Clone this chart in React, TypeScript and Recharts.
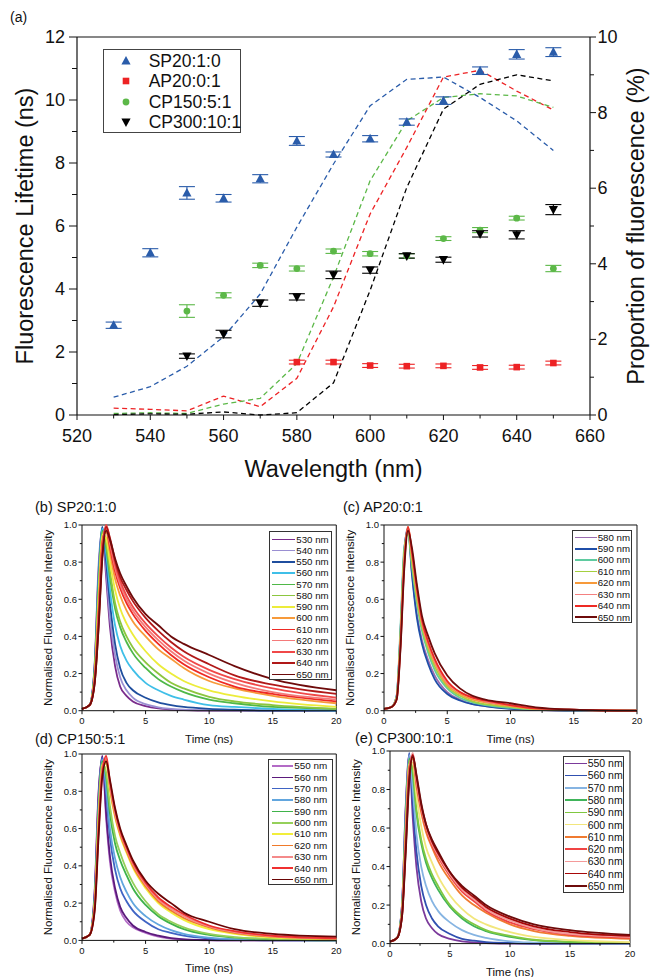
import React from 'react';
import {
  ComposedChart,
  LineChart,
  Line,
  Scatter,
  ErrorBar,
  XAxis,
  YAxis,
  ReferenceLine,
  Legend,
  Label,
} from 'recharts';

const FONT = '"Liberation Sans", Arial, Helvetica, sans-serif';

// ---------- (a) lifetime (left axis) and proportion (right axis) ----------
const wavelengths = [530, 540, 550, 560, 570, 580, 590, 600, 610, 620, 630, 640, 650];
const wavelengthTicks = [520, 530, 540, 550, 560, 570, 580, 590, 600, 610, 620, 630, 640, 650, 660];
const lifetimeTicks = [0, 1, 2, 3, 4, 5, 6, 7, 8, 9, 10, 11, 12];
const proportionTicks = [0, 1, 2, 3, 4, 5, 6, 7, 8, 9, 10];

const sp20Lifetime = [2.85, 5.15, 7.05, 6.88, 7.5, 8.7, 8.27, 8.77, 9.3, 9.98, 10.93, 11.45, 11.52];
const sp20Error = [0.1, 0.13, 0.2, 0.12, 0.13, 0.14, 0.08, 0.1, 0.1, 0.12, 0.12, 0.15, 0.14];
const ap20Lifetime = [null, null, null, null, null, 1.68, 1.68, 1.57, 1.55, 1.56, 1.51, 1.52, 1.65];
const ap20Error = [null, null, null, null, null, 0.06, 0.06, 0.06, 0.06, 0.06, 0.06, 0.06, 0.06];
const cp150Lifetime = [null, null, 3.3, 3.8, 4.75, 4.65, 5.2, 5.12, 5.05, 5.6, 5.87, 6.25, 4.65];
const cp150Error = [null, null, 0.2, 0.08, 0.07, 0.08, 0.07, 0.07, 0.07, 0.06, 0.08, 0.06, 0.1];
const cp300Lifetime = [null, null, 1.87, 2.57, 3.55, 3.75, 4.45, 4.6, 5.05, 4.93, 5.75, 5.72, 6.52];
const cp300Error = [null, null, 0.07, 0.12, 0.1, 0.1, 0.12, 0.1, 0.07, 0.08, 0.1, 0.13, 0.16];

const sp20Proportion = [0.47, 0.75, 1.29, 2.07, 3.2, 4.97, 6.64, 8.18, 8.88, 8.94, 8.4, 7.78, 7.0];
const ap20Proportion = [0.18, 0.15, 0.11, 0.5, 0.22, 0.97, 2.86, 5.32, 7.08, 8.94, 9.12, 8.57, 8.07];
const cp150Proportion = [0.04, 0.06, 0.04, 0.29, 0.44, 1.36, 3.65, 6.2, 7.78, 8.4, 8.5, 8.44, 8.14];
const cp300Proportion = [0.01, 0.03, 0.02, 0.08, 0, 0.06, 0.85, 3.3, 6.02, 8.09, 8.75, 9.0, 8.84];

// ---------- (b)-(e) normalised decays ----------
const decayTimes = [0, 0.6, 1.0, 1.3, 1.6, 1.9, 2.2, 2.6, 3, 3.5, 4, 5, 6, 7, 8, 10, 12, 15, 20];
const timeTicks = [0, 2.5, 5, 7.5, 10, 12.5, 15, 17.5, 20];
const intensityTicks = [0, 0.1, 0.2, 0.3, 0.4, 0.5, 0.6, 0.7, 0.8, 0.9, 1.0];

const sp20Waves = [530, 540, 550, 560, 570, 580, 590, 600, 610, 620, 630, 640, 650];
const sp20Colors = ['#7a2c8c', '#9a8fd2', '#1f4e9e', '#3fbfe8', '#4fb848', '#8cc63f', '#ecec3a', '#f79a3a', '#ee2a24', '#f47a7a', '#f04848', '#b01818', '#6e0b0b'];
const sp20Decay = [
  [0.01, 0.03, 0.25, 0.75, 0.97, 0.72, 0.45, 0.24, 0.13, 0.08, 0.05, 0.025, 0.012, 0.006, 0.003, 0, 0, 0, 0],
  [0.01, 0.03, 0.26, 0.78, 0.98, 0.76, 0.5, 0.3, 0.18, 0.11, 0.07, 0.035, 0.018, 0.01, 0.005, 0.002, 0, 0, 0],
  [0.01, 0.03, 0.24, 0.72, 0.99, 0.8, 0.58, 0.36, 0.23, 0.15, 0.11, 0.07, 0.045, 0.03, 0.02, 0.01, 0.005, 0, 0],
  [0.01, 0.03, 0.22, 0.68, 0.98, 0.85, 0.65, 0.46, 0.35, 0.27, 0.22, 0.15, 0.11, 0.08, 0.06, 0.03, 0.02, 0.01, 0],
  [0.01, 0.03, 0.22, 0.66, 0.97, 0.88, 0.72, 0.55, 0.45, 0.37, 0.31, 0.23, 0.17, 0.13, 0.1, 0.06, 0.04, 0.02, 0.01],
  [0.01, 0.03, 0.2, 0.62, 0.96, 0.9, 0.75, 0.58, 0.48, 0.4, 0.34, 0.26, 0.2, 0.15, 0.12, 0.075, 0.05, 0.03, 0.01],
  [0.01, 0.03, 0.2, 0.6, 0.95, 0.93, 0.8, 0.65, 0.55, 0.47, 0.41, 0.32, 0.25, 0.2, 0.16, 0.11, 0.08, 0.05, 0.02],
  [0.01, 0.03, 0.18, 0.55, 0.92, 0.96, 0.85, 0.71, 0.62, 0.54, 0.48, 0.4, 0.33, 0.28, 0.23, 0.16, 0.12, 0.08, 0.04],
  [0.01, 0.03, 0.17, 0.52, 0.9, 0.98, 0.88, 0.75, 0.66, 0.58, 0.52, 0.43, 0.36, 0.3, 0.25, 0.18, 0.13, 0.09, 0.05],
  [0.01, 0.03, 0.17, 0.5, 0.88, 0.99, 0.9, 0.77, 0.68, 0.6, 0.54, 0.45, 0.38, 0.32, 0.27, 0.2, 0.15, 0.1, 0.06],
  [0.01, 0.03, 0.16, 0.48, 0.86, 1.0, 0.92, 0.79, 0.7, 0.62, 0.56, 0.47, 0.4, 0.34, 0.29, 0.22, 0.17, 0.12, 0.07],
  [0.01, 0.03, 0.15, 0.45, 0.84, 0.99, 0.93, 0.81, 0.72, 0.65, 0.59, 0.5, 0.43, 0.37, 0.32, 0.25, 0.19, 0.14, 0.09],
  [0.01, 0.03, 0.15, 0.44, 0.82, 0.97, 0.92, 0.82, 0.74, 0.67, 0.61, 0.52, 0.46, 0.4, 0.36, 0.3, 0.24, 0.17, 0.11],
];

const ap20Waves = [580, 590, 600, 610, 620, 630, 640, 650];
const ap20Colors = ['#9b6bb0', '#1f4ea8', '#5fcba0', '#a5d040', '#f79a3a', '#f48080', '#ee2a24', '#6e0b0b'];
const ap20Decay = [
  [0.01, 0.02, 0.08, 0.42, 0.85, 0.99, 0.75, 0.52, 0.38, 0.27, 0.19, 0.1, 0.06, 0.035, 0.025, 0.012, 0.005, 0, 0],
  [0.01, 0.02, 0.08, 0.42, 0.86, 0.98, 0.74, 0.5, 0.36, 0.25, 0.17, 0.09, 0.055, 0.035, 0.025, 0.01, 0.004, 0, 0],
  [0.01, 0.02, 0.08, 0.45, 0.88, 0.95, 0.78, 0.58, 0.43, 0.31, 0.22, 0.12, 0.07, 0.045, 0.03, 0.015, 0.006, 0.002, 0],
  [0.01, 0.02, 0.07, 0.4, 0.85, 0.96, 0.8, 0.6, 0.45, 0.33, 0.24, 0.13, 0.08, 0.05, 0.035, 0.02, 0.008, 0.003, 0],
  [0.01, 0.02, 0.07, 0.38, 0.82, 0.99, 0.84, 0.63, 0.47, 0.35, 0.26, 0.14, 0.09, 0.06, 0.045, 0.025, 0.01, 0.004, 0],
  [0.01, 0.02, 0.06, 0.36, 0.8, 0.98, 0.85, 0.65, 0.48, 0.36, 0.27, 0.15, 0.1, 0.07, 0.05, 0.03, 0.012, 0.005, 0],
  [0.01, 0.02, 0.06, 0.34, 0.78, 0.99, 0.86, 0.66, 0.49, 0.37, 0.28, 0.16, 0.1, 0.07, 0.055, 0.03, 0.012, 0.005, 0],
  [0.01, 0.02, 0.06, 0.33, 0.76, 0.97, 0.88, 0.68, 0.51, 0.4, 0.31, 0.19, 0.12, 0.08, 0.06, 0.04, 0.018, 0.006, 0],
];

const cp150Waves = [550, 560, 570, 580, 590, 600, 610, 620, 630, 640, 650];
const cp150Colors = ['#b36bc6', '#5b1a7c', '#3f64c4', '#62a6de', '#3fb34a', '#95d05a', '#f2ee3a', '#f07a2a', '#f48a8a', '#f03030', '#6a0505'];
const cp150Decay = [
  [0.01, 0.03, 0.28, 0.8, 0.97, 0.65, 0.42, 0.26, 0.16, 0.1, 0.07, 0.04, 0.02, 0.01, 0.005, 0, 0, 0, 0],
  [0.01, 0.03, 0.26, 0.78, 0.99, 0.68, 0.45, 0.28, 0.18, 0.12, 0.08, 0.045, 0.025, 0.012, 0.006, 0.002, 0, 0, 0],
  [0.01, 0.03, 0.24, 0.74, 0.98, 0.78, 0.55, 0.38, 0.28, 0.21, 0.16, 0.1, 0.06, 0.04, 0.025, 0.01, 0.004, 0, 0],
  [0.01, 0.03, 0.23, 0.72, 0.97, 0.82, 0.6, 0.44, 0.34, 0.26, 0.2, 0.13, 0.085, 0.055, 0.035, 0.015, 0.006, 0.002, 0],
  [0.01, 0.03, 0.22, 0.7, 0.96, 0.88, 0.68, 0.52, 0.43, 0.35, 0.28, 0.19, 0.13, 0.09, 0.06, 0.03, 0.015, 0.006, 0],
  [0.01, 0.03, 0.21, 0.68, 0.95, 0.9, 0.72, 0.56, 0.47, 0.38, 0.31, 0.21, 0.14, 0.1, 0.07, 0.035, 0.018, 0.008, 0.002],
  [0.01, 0.03, 0.2, 0.64, 0.94, 0.95, 0.8, 0.66, 0.56, 0.47, 0.39, 0.28, 0.2, 0.15, 0.11, 0.06, 0.035, 0.015, 0.005],
  [0.01, 0.03, 0.19, 0.62, 0.93, 0.97, 0.82, 0.67, 0.57, 0.48, 0.4, 0.29, 0.21, 0.16, 0.12, 0.07, 0.04, 0.02, 0.008],
  [0.01, 0.03, 0.18, 0.6, 0.92, 0.98, 0.83, 0.68, 0.58, 0.49, 0.41, 0.3, 0.22, 0.17, 0.13, 0.075, 0.045, 0.022, 0.01],
  [0.01, 0.03, 0.17, 0.58, 0.9, 0.99, 0.85, 0.7, 0.59, 0.5, 0.42, 0.31, 0.23, 0.18, 0.14, 0.08, 0.05, 0.025, 0.012],
  [0.01, 0.03, 0.16, 0.55, 0.88, 0.96, 0.86, 0.71, 0.6, 0.51, 0.43, 0.32, 0.25, 0.2, 0.15, 0.1, 0.06, 0.035, 0.02],
];

const cp300Waves = [550, 560, 570, 580, 590, 600, 610, 620, 630, 640, 650];
const cp300Colors = ['#7b3a9b', '#3050b0', '#86b4e2', '#40b45a', '#80c840', '#f2e67c', '#f07a30', '#f04444', '#f49a9a', '#a80808', '#6e0b0b'];
const cp300Decay = [
  [0.01, 0.03, 0.2, 0.7, 0.98, 0.65, 0.4, 0.22, 0.13, 0.08, 0.05, 0.025, 0.012, 0.006, 0.003, 0, 0, 0, 0],
  [0.01, 0.03, 0.2, 0.68, 0.99, 0.72, 0.48, 0.3, 0.2, 0.13, 0.09, 0.05, 0.025, 0.015, 0.008, 0.003, 0, 0, 0],
  [0.01, 0.03, 0.19, 0.65, 0.98, 0.8, 0.57, 0.4, 0.3, 0.22, 0.17, 0.11, 0.07, 0.045, 0.03, 0.012, 0.005, 0.001, 0],
  [0.01, 0.03, 0.18, 0.62, 0.96, 0.88, 0.68, 0.52, 0.42, 0.34, 0.28, 0.19, 0.13, 0.09, 0.065, 0.035, 0.018, 0.008, 0.002],
  [0.01, 0.03, 0.18, 0.6, 0.95, 0.9, 0.7, 0.54, 0.44, 0.36, 0.3, 0.2, 0.14, 0.1, 0.07, 0.04, 0.02, 0.01, 0.003],
  [0.01, 0.03, 0.17, 0.57, 0.93, 0.94, 0.77, 0.61, 0.5, 0.42, 0.35, 0.25, 0.18, 0.13, 0.1, 0.06, 0.035, 0.018, 0.008],
  [0.01, 0.03, 0.16, 0.55, 0.92, 0.96, 0.82, 0.68, 0.58, 0.5, 0.43, 0.33, 0.25, 0.2, 0.16, 0.1, 0.065, 0.04, 0.025],
  [0.01, 0.03, 0.15, 0.52, 0.9, 0.98, 0.84, 0.7, 0.6, 0.51, 0.45, 0.35, 0.27, 0.22, 0.17, 0.11, 0.075, 0.045, 0.03],
  [0.01, 0.03, 0.15, 0.5, 0.88, 0.99, 0.85, 0.71, 0.61, 0.52, 0.46, 0.36, 0.28, 0.23, 0.18, 0.12, 0.08, 0.05, 0.035],
  [0.01, 0.03, 0.14, 0.48, 0.86, 0.98, 0.87, 0.72, 0.62, 0.53, 0.47, 0.37, 0.29, 0.24, 0.19, 0.13, 0.09, 0.06, 0.04],
  [0.01, 0.03, 0.14, 0.46, 0.84, 0.97, 0.88, 0.73, 0.62, 0.54, 0.48, 0.37, 0.3, 0.25, 0.2, 0.14, 0.1, 0.07, 0.045],
];

// ---------- helpers ----------
const toPoints = (vals: (number | null)[], errs: (number | null)[]) =>
  wavelengths
    .map((wl, i) => ({ wl, v: vals[i], err: errs[i] }))
    .filter((p) => p.v != null);

const proportionRows = wavelengths.map((wl, i) => ({
  wl,
  sp20: sp20Proportion[i],
  ap20: ap20Proportion[i],
  cp150: cp150Proportion[i],
  cp300: cp300Proportion[i],
}));

const decayRows = (waves: number[], decay: number[][]) =>
  decayTimes.map((t, i) => {
    const row: Record<string, number> = { t };
    waves.forEach((w, j) => {
      row['w' + w] = decay[j][i];
    });
    return row;
  });

type TickOpts = {
  side: 'bottom' | 'left' | 'right';
  major: (v: number) => boolean;
  fmt: (v: number) => string;
  big: number;
  small: number;
  gap: number;
  size: number;
};

const makeTick = (o: TickOpts) => (props: any) => {
  const { x, y, payload } = props;
  const v = payload.value;
  const isMajor = o.major(v);
  const len = isMajor ? o.big : o.small;
  const text = { fontSize: o.size, fill: '#111', dominantBaseline: 'central' as const };
  if (o.side === 'bottom') {
    return (
      <g>
        <line x1={x} y1={y} x2={x} y2={y + len} stroke="#111" />
        {isMajor && (
          <text x={x} y={y + o.gap} textAnchor="middle" {...text}>
            {o.fmt(v)}
          </text>
        )}
      </g>
    );
  }
  const dir = o.side === 'left' ? -1 : 1;
  return (
    <g>
      <line x1={x} y1={y} x2={x + dir * len} y2={y} stroke="#111" />
      {isMajor && (
        <text x={x + dir * o.gap} y={y} textAnchor={o.side === 'left' ? 'end' : 'start'} {...text}>
          {o.fmt(v)}
        </text>
      )}
    </g>
  );
};

const axisTitle = (text: string, side: 'left' | 'right' | 'bottom', offset: number, size: number) =>
  (props: any) => {
    const vb = props.viewBox || { x: 0, y: 0, width: 0, height: 0 };
    if (side === 'bottom') {
      return (
        <text x={vb.x + vb.width / 2} y={vb.y + offset} textAnchor="middle" dominantBaseline="central" fontSize={size} fill="#111">
          {text}
        </text>
      );
    }
    const x = side === 'left' ? vb.x + vb.width - offset : vb.x + offset;
    const y = vb.y + vb.height / 2;
    return (
      <text x={x} y={y} transform={`rotate(-90 ${x} ${y})`} textAnchor="middle" dominantBaseline="central" fontSize={size} fill="#111">
        {text}
      </text>
    );
  };

// marker shapes
const TriUp = (p: any) => (
  <path d={`M${p.cx},${p.cy - 5}L${p.cx + 4.6},${p.cy + 3.6}L${p.cx - 4.6},${p.cy + 3.6}Z`} fill={p.fill} />
);
const TriDown = (p: any) => (
  <path d={`M${p.cx},${p.cy + 5}L${p.cx + 4.6},${p.cy - 3.6}L${p.cx - 4.6},${p.cy - 3.6}Z`} fill={p.fill} />
);
const Square = (p: any) => <rect x={p.cx - 3.3} y={p.cy - 3.3} width={6.6} height={6.6} fill={p.fill} />;
const Dot = (p: any) => <circle cx={p.cx} cy={p.cy} r={3.4} fill={p.fill} />;

const mainSeries = [
  { name: 'SP20:1:0', color: '#2a5caa', shape: TriUp, vals: sp20Lifetime, errs: sp20Error, prop: 'sp20' },
  { name: 'AP20:0:1', color: '#ed2224', shape: Square, vals: ap20Lifetime, errs: ap20Error, prop: 'ap20' },
  { name: 'CP150:5:1', color: '#5cb848', shape: Dot, vals: cp150Lifetime, errs: cp150Error, prop: 'cp150' },
  { name: 'CP300:10:1', color: '#000000', shape: TriDown, vals: cp300Lifetime, errs: cp300Error, prop: 'cp300' },
];

const MainLegend = () => (
  <div
    style={{
      width: 138,
      height: 84,
      border: '1.3px solid #444',
      boxSizing: 'border-box',
      background: '#fff',
      paddingTop: 0.5,
    }}
  >
    {mainSeries.map((s) => {
      const M = s.shape;
      return (
        <div key={s.name} style={{ height: 20.5, display: 'flex', alignItems: 'center' }}>
          <svg width={45} height={20} style={{ flex: 'none' }}>
            <M cx={22} cy={10} fill={s.color} />
          </svg>
          <span style={{ fontSize: 17.5, lineHeight: '20.5px', color: '#111', whiteSpace: 'nowrap' }}>{s.name}</span>
        </div>
      );
    })}
  </div>
);

function LifetimeChart() {
  return (
    <div style={{ position: 'absolute', left: 0, top: 0 }}>
      <ComposedChart width={650} height={492} data={proportionRows} margin={{ top: 37, right: 0, bottom: 0, left: 0 }}>
        <XAxis
          dataKey="wl"
          type="number"
          domain={[520, 660]}
          ticks={wavelengthTicks}
          interval={0}
          height={77}
          tickSize={0}
          tickMargin={0}
          tickLine={false}
          axisLine={{ stroke: '#111', strokeWidth: 1.2 }}
          tick={makeTick({ side: 'bottom', major: (v) => (v - 520) % 20 === 0, fmt: String, big: 5, small: 3.5, gap: 21, size: 18 })}
        >
          <Label content={axisTitle('Wavelength (nm)', 'bottom', 54, 23.5)} />
        </XAxis>
        <YAxis
          yAxisId="left"
          type="number"
          domain={[0, 12]}
          ticks={lifetimeTicks}
          interval={0}
          width={77}
          tickSize={0}
          tickMargin={0}
          tickLine={false}
          axisLine={{ stroke: '#111', strokeWidth: 1.2 }}
          tick={makeTick({ side: 'left', major: (v) => v % 2 === 0, fmt: String, big: 8, small: 5, gap: 12, size: 18 })}
        >
          <Label content={axisTitle('Fluorescence Lifetime (ns)', 'left', 52, 23.5)} />
        </YAxis>
        <YAxis
          yAxisId="right"
          orientation="right"
          type="number"
          domain={[0, 10]}
          ticks={proportionTicks}
          interval={0}
          width={60}
          tickSize={0}
          tickMargin={0}
          tickLine={false}
          axisLine={{ stroke: '#111', strokeWidth: 1.2 }}
          tick={makeTick({ side: 'right', major: (v) => v % 2 === 0, fmt: String, big: 6, small: 4, gap: 7.5, size: 18 })}
        >
          <Label content={axisTitle('Proportion of fluorescence (%)', 'right', 46, 23.5)} />
        </YAxis>
        <ReferenceLine yAxisId="left" y={12} stroke="#111" strokeWidth={1.2} />
        {mainSeries.map((s) => (
          <Line
            key={'p' + s.prop}
            yAxisId="right"
            dataKey={s.prop}
            type="linear"
            stroke={s.color}
            strokeWidth={1.3}
            strokeDasharray="5 3.5"
            dot={false}
            activeDot={false}
            legendType="none"
            isAnimationActive={false}
          />
        ))}
        {mainSeries.map((s) => (
          <Scatter
            key={'s' + s.prop}
            yAxisId="left"
            name={s.name}
            data={toPoints(s.vals, s.errs)}
            dataKey="v"
            fill={s.color}
            shape={s.shape}
            isAnimationActive={false}
          >
            <ErrorBar dataKey="err" direction="y" width={8} stroke={s.color} strokeWidth={1.1} />
          </Scatter>
        ))}
        <Legend
          layout="vertical"
          align="center"
          verticalAlign="middle"
          content={() => <MainLegend />}
          wrapperStyle={{ left: 102.7, top: 49, width: 138, height: 84 }}
        />
      </ComposedChart>
    </div>
  );
}

type PanelSpec = {
  title: string;
  titleX: number;
  titleY: number;
  plot: { l: number; r: number; t: number; b: number };
  legend: { x: number; y: number; w: number; h: number; row: number; pad: number; lineX: number; lineW: number; size: number };
  waves: number[];
  colors: string[];
  decay: number[][];
};

const panels: PanelSpec[] = [
  {
    title: '(b) SP20:1:0', titleX: 35, titleY: 512.5,
    plot: { l: 81.7, r: 336, t: 525, b: 710.7 },
    legend: { x: 269.3, y: 530.7, w: 63, h: 149.3, row: 11.25, pad: 2, lineX: 2, lineW: 23, size: 9.7 },
    waves: sp20Waves, colors: sp20Colors, decay: sp20Decay,
  },
  {
    title: '(c) AP20:0:1', titleX: 343, titleY: 512.5,
    plot: { l: 384.3, r: 637.3, t: 525, b: 710.7 },
    legend: { x: 571.7, y: 530, w: 60, h: 92.7, row: 11.43, pad: 0.6, lineX: 2.3, lineW: 21.7, size: 9.7 },
    waves: ap20Waves, colors: ap20Colors, decay: ap20Decay,
  },
  {
    title: '(d) CP150:5:1', titleX: 35, titleY: 744,
    plot: { l: 81.7, r: 336, t: 754.3, b: 940.7 },
    legend: { x: 268.3, y: 759.3, w: 65, h: 125.7, row: 11.36, pad: 0, lineX: 2.4, lineW: 21.6, size: 9.9 },
    waves: cp150Waves, colors: cp150Colors, decay: cp150Decay,
  },
  {
    title: '(e) CP300:10:1', titleX: 355, titleY: 743,
    plot: { l: 390, r: 630, t: 750.7, b: 943.3 },
    legend: { x: 562.7, y: 756, w: 61.3, h: 137.3, row: 12.27, pad: 0.2, lineX: 1.3, lineW: 21.7, size: 10.5 },
    waves: cp300Waves, colors: cp300Colors, decay: cp300Decay,
  },
];

const AXIS_W = 46;
const TOP_M = 30;
const RIGHT_M = 10;
const XAXIS_H = 45;

function DecayPanel({ spec }: { spec: PanelSpec }) {
  const { plot, legend } = spec;
  const left = plot.l - AXIS_W;
  const top = plot.t - TOP_M;
  const width = plot.r - plot.l + AXIS_W + RIGHT_M;
  const height = plot.b - plot.t + TOP_M + XAXIS_H;
  const rows = decayRows(spec.waves, spec.decay);
  const PanelLegend = () => (
    <div
      style={{
        width: legend.w,
        height: legend.h,
        border: '1px solid #333',
        boxSizing: 'border-box',
        background: '#fff',
        paddingTop: legend.pad,
      }}
    >
      {spec.waves.map((w, i) => (
        <div key={w} style={{ height: legend.row, display: 'flex', alignItems: 'center' }}>
          <div style={{ width: legend.lineX, flex: 'none' }} />
          <div style={{ width: legend.lineW, height: 1.6, background: spec.colors[i], flex: 'none' }} />
          <span style={{ fontSize: legend.size, lineHeight: legend.row + 'px', marginLeft: 1, color: '#111', whiteSpace: 'nowrap' }}>
            {w} nm
          </span>
        </div>
      ))}
    </div>
  );
  return (
    <>
      <div style={{ position: 'absolute', left, top }}>
        <LineChart width={width} height={height} data={rows} margin={{ top: TOP_M, right: RIGHT_M, bottom: 0, left: 0 }}>
          <XAxis
            dataKey="t"
            type="number"
            domain={[0, 20]}
            ticks={timeTicks}
            interval={0}
            height={XAXIS_H}
            tickSize={0}
            tickMargin={0}
            tickLine={false}
            axisLine={{ stroke: '#111' }}
            tick={makeTick({ side: 'bottom', major: (v) => v % 5 === 0, fmt: String, big: 3.5, small: 2.2, gap: 10.3, size: 9.5 })}
          >
            <Label content={axisTitle('Time (ns)', 'bottom', 28, 11.5)} />
          </XAxis>
          <YAxis
            type="number"
            domain={[0, 1]}
            ticks={intensityTicks}
            interval={0}
            width={AXIS_W}
            tickSize={0}
            tickMargin={0}
            tickLine={false}
            axisLine={{ stroke: '#111' }}
            tick={makeTick({ side: 'left', major: (v) => Math.round(v * 10) % 2 === 0, fmt: (v) => v.toFixed(1), big: 3.5, small: 2.2, gap: 5, size: 9.5 })}
          >
            <Label content={axisTitle('Normalised Fluorescence Intensity', 'left', 34, 11.5)} />
          </YAxis>
          <ReferenceLine y={1} stroke="#111" />
          <ReferenceLine x={20} stroke="#111" />
          {spec.waves.map((w, i) => (
            <Line
              key={w}
              dataKey={'w' + w}
              name={w + ' nm'}
              type="monotone"
              stroke={spec.colors[i]}
              strokeWidth={1.8}
              dot={false}
              activeDot={false}
              isAnimationActive={false}
            />
          ))}
          <Legend
            layout="vertical"
            align="center"
            verticalAlign="middle"
            content={() => <PanelLegend />}
            wrapperStyle={{ left: legend.x - left, top: legend.y - top, width: legend.w, height: legend.h }}
          />
        </LineChart>
      </div>
      <div
        style={{
          position: 'absolute',
          left: spec.titleX,
          top: spec.titleY - 12.3,
          fontSize: 14.5,
          lineHeight: 1,
          color: '#111',
          whiteSpace: 'nowrap',
        }}
      >
        {spec.title}
      </div>
    </>
  );
}

export default function App() {
  return (
    <div
      style={{
        position: 'absolute',
        left: 0,
        top: 0,
        width: 650,
        height: 977,
        background: '#fff',
        fontFamily: FONT,
        overflow: 'hidden',
      }}
    >
      <div style={{ position: 'absolute', left: 10, top: 10, fontSize: 14, lineHeight: 1, color: '#111' }}>(a)</div>
      <LifetimeChart />
      {panels.map((p) => (
        <DecayPanel key={p.title} spec={p} />
      ))}
    </div>
  );
}
